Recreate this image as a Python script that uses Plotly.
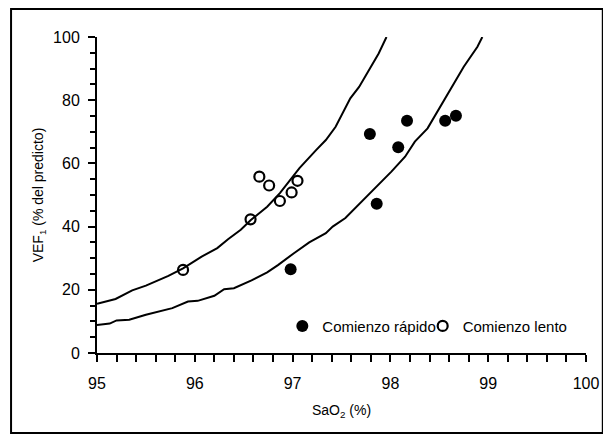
import plotly.graph_objects as go

# Fitted curves
upper_x = [95.00, 95.19, 95.36, 95.50, 95.73, 95.88, 96.07, 96.23, 96.34, 96.47,
           96.57, 96.74, 96.87, 97.07, 97.24, 97.34, 97.44, 97.54, 97.59, 97.68,
           97.78, 97.88, 97.96]
upper_y = [15.6, 17.1, 19.8, 21.3, 24.4, 26.8, 30.5, 33.2, 36.0, 39.0,
           42.0, 46.3, 50.6, 58.5, 64.2, 67.4, 71.6, 77.9, 80.6, 84.2,
           89.3, 94.8, 100.0]

lower_x = [95.00, 95.13, 95.20, 95.33, 95.50, 95.63, 95.77, 95.93, 96.03, 96.20,
           96.30, 96.40, 96.58, 96.74, 96.85, 97.01, 97.17, 97.34, 97.41, 97.54,
           97.64, 97.74, 97.88, 98.01, 98.15, 98.25, 98.38, 98.55, 98.75, 98.89,
           98.94]
lower_y = [8.9, 9.3, 10.3, 10.5, 12.1, 13.1, 14.2, 16.3, 16.5, 18.1,
           20.2, 20.5, 23.0, 25.5, 27.8, 31.5, 35.0, 37.9, 40.0, 42.7,
           45.8, 49.0, 53.2, 57.4, 62.1, 66.9, 71.1, 80.0, 90.6, 96.9,
           100.0]

# Observations
rapido_x = [97.79, 98.17, 98.08, 97.86, 96.98, 98.56, 98.67]
rapido_y = [69.3, 73.5, 65.1, 47.2, 26.5, 73.5, 75.1]

lento_x = [96.66, 96.76, 97.05, 96.99, 96.87, 96.57, 95.88]
lento_y = [55.8, 53.0, 54.5, 50.8, 48.1, 42.3, 26.3]

FONT = "Arial, Liberation Sans, sans-serif"

fig = go.Figure()
fig.add_trace(go.Scatter(x=upper_x, y=upper_y, mode="lines",
                         line=dict(color="black", width=2), showlegend=False,
                         hoverinfo="skip"))
fig.add_trace(go.Scatter(x=lower_x, y=lower_y, mode="lines",
                         line=dict(color="black", width=2), showlegend=False,
                         hoverinfo="skip"))
fig.add_trace(go.Scatter(x=rapido_x, y=rapido_y, mode="markers",
                         name="Comienzo rápido", legend="legend",
                         marker=dict(symbol="circle", size=12, color="black",
                                     line=dict(width=0))))
fig.add_trace(go.Scatter(x=lento_x, y=lento_y, mode="markers",
                         name="Comienzo lento", legend="legend2",
                         marker=dict(symbol="circle-open", size=10, color="black",
                                     line=dict(width=2.2, color="black"))))

# page body has an 8px margin: figure drawn at (8,8)
PW, PH = 495, 316
leg_common = dict(orientation="h", y=0.085, xanchor="left", yanchor="middle",
                  bgcolor="rgba(0,0,0,0)", font=dict(size=15, family=FONT),
                  itemwidth=30)
fig.update_layout(
    width=603, height=427,
    margin=dict(l=89, r=19, t=29, b=82),
    paper_bgcolor="white", plot_bgcolor="white",
    font=dict(family=FONT, color="black", size=16),
    legend=dict(x=0.379, **leg_common),
    legend2=dict(x=0.666, **leg_common),
    shapes=[dict(type="rect", xref="paper", yref="paper",
                 x0=-87 / PW, x1=(609 - 97) / PW,
                 y0=-80 / PH, y1=(353 - 9) / PH,
                 line=dict(color="black", width=2), fillcolor="rgba(0,0,0,0)",
                 layer="below")],
)

fig.update_xaxes(
    range=[95, 100], tickmode="linear", tick0=95, dtick=1,
    showgrid=False, zeroline=False,
    showline=True, linecolor="black", linewidth=2,
    ticks="outside", ticklen=7, tickwidth=2, tickcolor="black",
    tickfont=dict(size=16, family=FONT), ticklabelstandoff=8,
    minor=dict(tickmode="linear", dtick=0.2, ticks="outside", ticklen=7,
               tickwidth=2, tickcolor="black", showgrid=False),
    title=dict(text="SaO<sub>2</sub> (%)", font=dict(size=14, family=FONT),
               standoff=14),
)
fig.update_yaxes(
    range=[0, 100], tickmode="linear", tick0=0, dtick=20,
    showgrid=False, zeroline=False,
    showline=True, linecolor="black", linewidth=2,
    ticks="outside", ticklen=7, tickwidth=2, tickcolor="black",
    tickfont=dict(size=16, family=FONT), ticklabelstandoff=5,
    minor=dict(tickmode="linear", dtick=5, ticks="outside", ticklen=5,
               tickwidth=2, tickcolor="black", showgrid=False),
    title=dict(text="VEF<sub>1</sub> (% del predicto)",
               font=dict(size=14, family=FONT), standoff=6),
)

fig.write_html("out.html")
